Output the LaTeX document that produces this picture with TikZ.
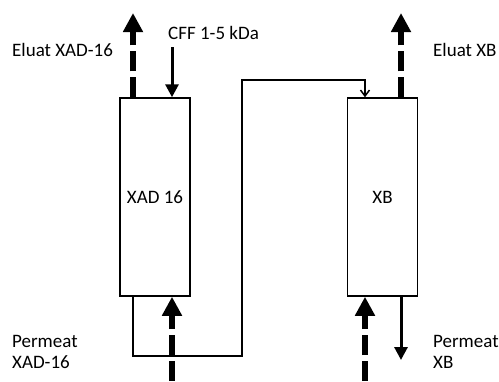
\documentclass[tikz,border=0pt]{standalone}
\usepackage{fontspec}
\setmainfont{Carlito}
\usetikzlibrary{arrows.meta}

\begin{document}
\begin{tikzpicture}[x=1pt, y=-1pt, font=\fontsize{19}{21}\selectfont,
		column/.style={draw, line width=1.5pt, minimum width=70pt, minimum height=198pt, inner sep=0pt},
		elution/.style={line width=6pt, dash pattern=on 20pt off 6pt, -{Triangle[width=19pt, length=19pt]}},
		feed/.style={line width=3pt, -{Triangle[width=13pt, length=13pt]}},
		transfer/.style={line width=1.5pt, -{Straight Barb[width=9pt, length=6pt]}},
		flowtext/.style={anchor=base west, inner sep=0pt, align=left}]
		\useasboundingbox (0,0) rectangle (499,381);

		% columns
		\node[column] (xad) at (155,197) {XAD 16};
		\node[column] (xb) at (382.5,197) {XB};

		% free ends
		\coordinate (eluatxad) at (133,13);
		\coordinate (cff) at (172,47);
		\coordinate (eluatxb) at (401,13);
		\coordinate (inxad) at (172,381);
		\coordinate (inxb) at (365,381);
		\coordinate (permxb) at (401,360);
		\coordinate (bend) at (242,80);

		\draw[elution] (eluatxad |- xad.north) -- (eluatxad);
		\draw[feed] (cff) -- (cff |- xad.north);
		\draw[elution] (eluatxb |- xb.north) -- (eluatxb);
		\draw[elution] (inxad) -- (inxad |- xad.south);
		\draw[elution] (inxb) -- (inxb |- xb.south);
		\draw[feed] (permxb |- xb.south) -- (permxb);
		\draw[transfer] (eluatxad |- xad.south) -- ++(0,59) -| (bend) -| (inxb |- xb.north);

		\node[flowtext] (eluatxadtext) at (12,56) {Eluat XAD-16};
		\node[flowtext] (cfftext) at (168,39) {CFF 1-5 kDa};
		\node[flowtext] (eluatxbtext) at (433,56) {Eluat XB};
		% multi-line nodes sit on their last baseline
		\node[flowtext] (permxadtext) at (12,368) {Permeat\\XAD-16};
		\node[flowtext] (permxbtext) at (433,368) {Permeat\\XB};
	\end{tikzpicture}
\end{document}
